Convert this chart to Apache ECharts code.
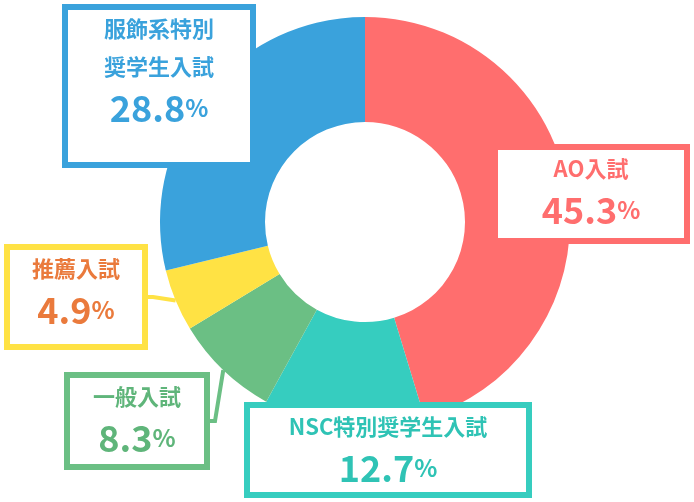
<!DOCTYPE html>
<html><head><meta charset="utf-8">
<script src="https://cdn.jsdelivr.net/npm/echarts@6/dist/echarts.min.js"></script>
<style>html,body{margin:0;background:#fff}#c{width:694px;height:502px}</style>
</head><body><div id="c"></div>
<script>
var names = ['AO入試', 'NSC特別奨学生入試', '一般入試', '推薦入試', '服飾系特別\n奨学生入試'];
var values = [45.3, 12.7, 8.3, 4.9, 28.8];
var colors = ['#ff6e6e', '#36cdbf', '#6bbf84', '#ffe244', '#3aa2dc'];
var textColors = ['#ff6e6e', '#2fc3b5', '#5fb57a', '#ea7a3c', '#3aa2dc'];
// label boxes: center x, center y, width, height
var boxes = [[591, 194, 192, 94], [388, 450, 282, 90], [137, 421, 140, 92], [76, 297, 138, 100], [159, 86, 188, 158]];

var font = '"Noto Sans CJK JP", sans-serif';
var data = values.map(function(v, i) {
	var b = boxes[i];
	return {
		name: names[i], value: v,
		itemStyle: { color: colors[i] },
		label: {
			formatter: '{t|' + names[i].replace('\n', '}\n{t|') + '}\n{p|' + v.toFixed(1) + '}{s|%}',
			width: b[2] - 6, height: b[3] - 6,
			borderColor: colors[i], borderWidth: 6, backgroundColor: '#fff',
			align: 'center', verticalAlign: 'middle',
			rich: {
				t: { fontFamily: font, fontSize: 22, fontWeight: 'bold', color: textColors[i], lineHeight: 38, align: 'center' },
				p: { fontFamily: font, fontSize: 36, fontWeight: 'bold', color: textColors[i], lineHeight: 44 },
				s: { fontFamily: font, fontSize: 24, fontWeight: 'bold', color: textColors[i], lineHeight: 44 }
			}
		},
		labelLine: { show: i == 2 || i == 3, lineStyle: { color: colors[i], width: 4 } }
	};
});

var chart = echarts.init(document.getElementById('c'));
chart.setOption({
	animation: false,
	series: [{
		type: 'pie',
		center: [365, 222],
		radius: [100, 205],
		startAngle: 90,
		clockwise: true,
		label: { show: true, position: 'outside' },
		labelLine: { length: 5, length2: 5 },
		labelLayout: function(p) {
			var b = boxes[p.dataIndex];
			return { x: b[0], y: b[1], align: 'center', verticalAlign: 'middle' };
		},
		data: data
	}]
});
</script></body></html>
